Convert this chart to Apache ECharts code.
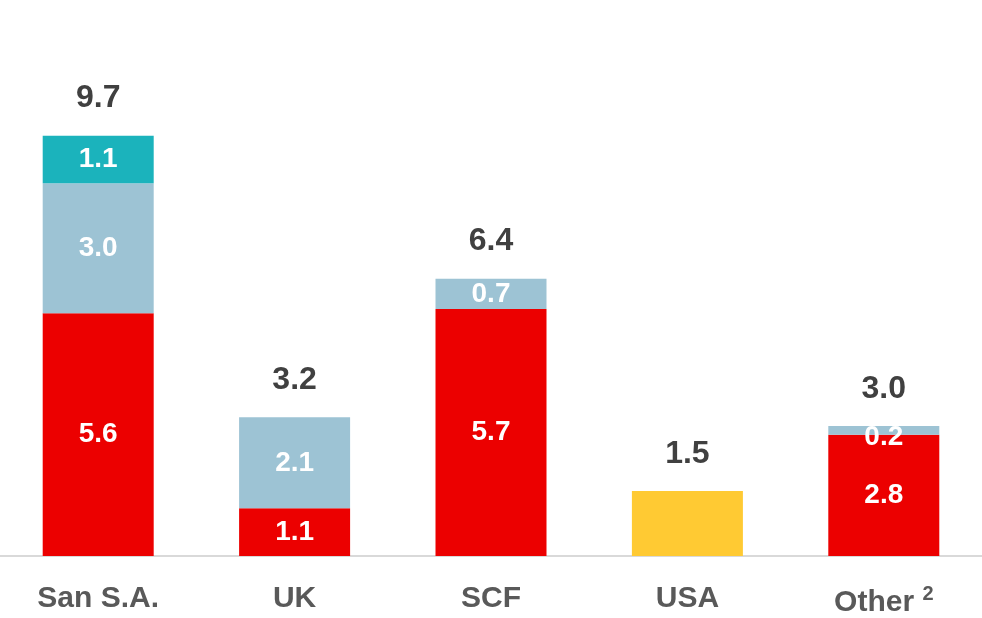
<!DOCTYPE html>
<html>
<head>
<meta charset="utf-8">
<style>
  html, body { margin: 0; padding: 0; background: #ffffff; }
  #chart { width: 982px; height: 618px; }
</style>
<script src="https://cdn.jsdelivr.net/npm/echarts@6/dist/echarts.min.js"></script>
</head>
<body>
<div id="chart"></div>
<script>
// Categories along the x axis
const categories = ['San S.A.', 'UK', 'SCF', 'USA', 'Other'];

// Stacked segment values (null where a segment is absent)
const redValues   = [5.6, 1.1, 5.7, null, 2.8];
const blueValues  = [3.0, 2.1, 0.7, null, 0.2];
const tealValues  = [1.1, null, null, null, null];
const yellowValues = [null, null, null, 1.5, null];

// Totals printed above each bar
const totals = [9.7, 3.2, 6.4, 1.5, 3.0];

const chart = echarts.init(document.getElementById('chart'), null, { renderer: 'canvas' });

const fontFamily = "'Liberation Sans', Arial, sans-serif";

const innerLabel = {
  show: true,
  position: 'inside',
  color: '#ffffff',
  fontWeight: 'bold',
  fontSize: 28,
  fontFamily: fontFamily,
  formatter: p => p.value == null ? '' : p.value.toFixed(1)
};

function stackSeries(name, values, color, label) {
  return {
    name: name,
    type: 'bar',
    stack: 'total',
    barWidth: 111,
    data: values,
    itemStyle: { color: color },
    label: label,
    emphasis: { disabled: true }
  };
}

// Small segment on "Other": label sits a little below the thin slice
const blueData = blueValues.map((v, i) =>
  i === 4 ? { value: v, label: { offset: [0, 7] } } : v);

chart.setOption({
  animation: false,
  backgroundColor: '#ffffff',
  grid: { left: 0, right: 0, top: 36, bottom: 55, containLabel: false },
  xAxis: {
    type: 'category',
    data: categories,
    axisLine: { show: true, lineStyle: { color: '#d9d9d9', width: 2 } },
    axisTick: { show: false },
    axisLabel: {
      interval: 0,
      margin: 28,
      color: '#595959',
      fontWeight: 'bold',
      fontSize: 30,
      fontFamily: fontFamily,
      formatter: v => v === 'Other' ? 'Other {sup|2}' : v,
      rich: {
        sup: {
          fontSize: 20,
          fontWeight: 'bold',
          color: '#595959',
          fontFamily: fontFamily,
          verticalAlign: 'top',
          padding: [0, 0, 18, 0]
        }
      }
    }
  },
  yAxis: {
    type: 'value',
    min: 0,
    max: 12,
    show: false,
    splitLine: { show: false }
  },
  series: [
    stackSeries('red', redValues, '#ec0000', innerLabel),
    stackSeries('lightblue', blueData, '#9dc3d4', innerLabel),
    stackSeries('teal', tealValues, '#1bb3bc', innerLabel),
    stackSeries('yellow', yellowValues, '#ffca33', { show: false }),
    {
      name: 'total',
      type: 'scatter',
      data: totals,
      symbolSize: 0,
      silent: true,
      itemStyle: { opacity: 1 },
      label: {
        show: true,
        position: 'top',
        distance: 21,
        color: '#404040',
        fontWeight: 'bold',
        fontSize: 32,
        fontFamily: fontFamily,
        formatter: p => p.value.toFixed(1)
      }
    }
  ]
});
</script>
</body>
</html>
